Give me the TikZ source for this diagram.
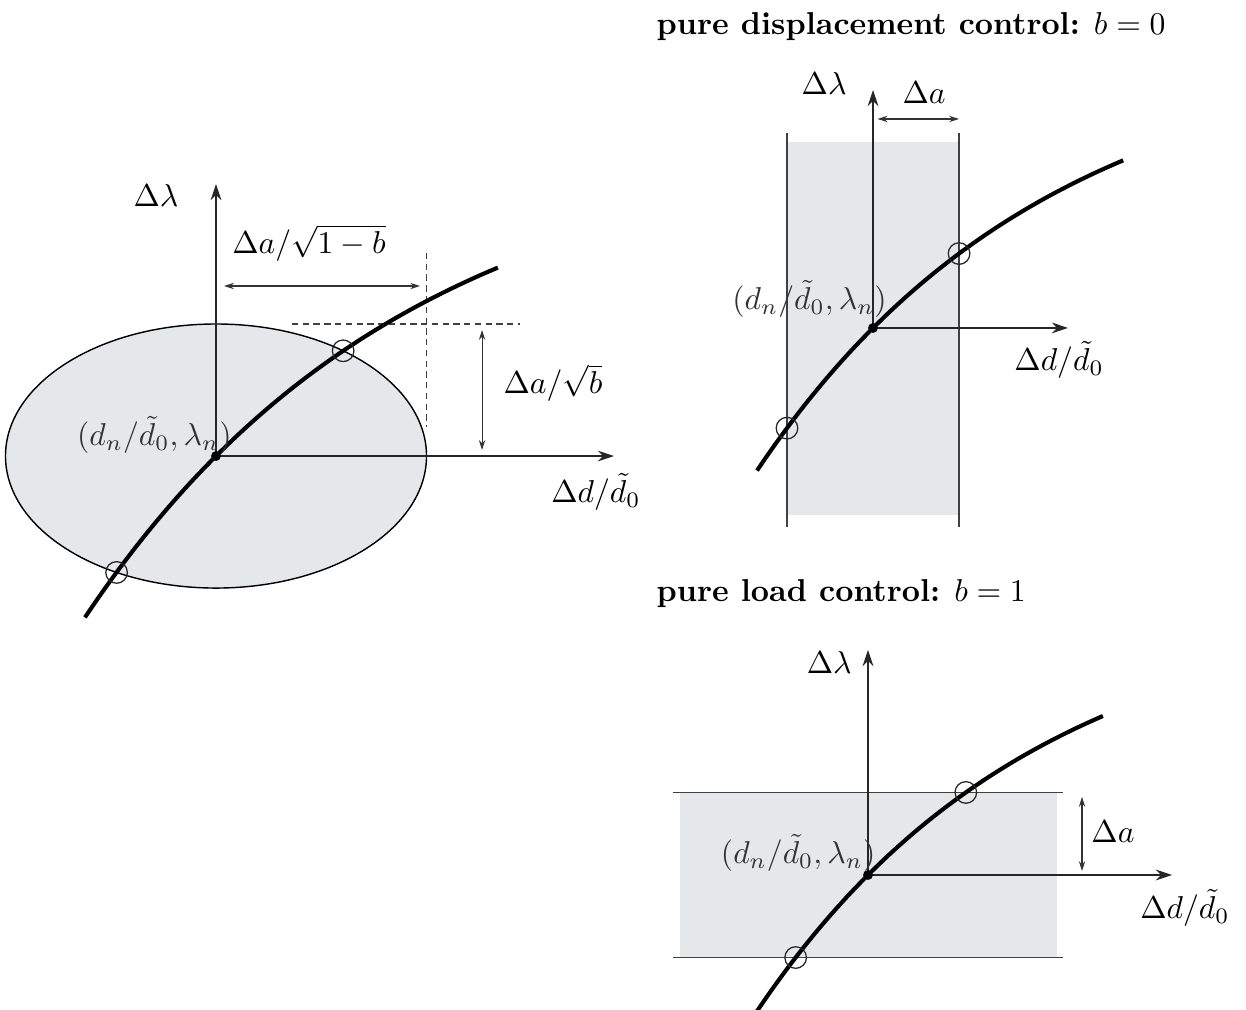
\documentclass[tikz,border=0pt]{standalone}
\usepackage{amsmath,amssymb}
\usepackage{xcolor}
\usepackage{tikz}
\usetikzlibrary{arrows.meta, intersections, calc}

\definecolor{areagray}{RGB}{230,231,233}

\begin{document}
\begin{tikzpicture}[
  axis/.style={-{Stealth[length=1.8mm, width=1.2mm]}, black!85, line width=0.45pt},
  dim/.style={{Stealth[length=1.1mm, width=0.7mm]}-{Stealth[length=1.1mm, width=0.7mm]}, black!80, line width=0.35pt},
  guide/.style={dash pattern=on 2pt off 1.4pt, black!75, line width=0.4pt},
  bound/.style={black!75, line width=0.5pt},
  curve/.style={line width=1.3pt, black},
  hit/.style={black!85, line width=0.4pt},
  lbl/.style={inner sep=0pt},
  ptlbl/.style={inner sep=0pt, text=black!80}
]
  \useasboundingbox (0,0) rectangle (13.844,11.211);

  % general case: ellipse
  \begin{scope}[shift={(2.400,6.144)}]
    \coordinate (o1) at (0,0);
    \coordinate (x1) at (4.422,0);
    \coordinate (y1) at (0,3.022);
    \filldraw[fill=areagray, draw=black, line width=0.45pt, name path=e1] (o1) ellipse (2.339 and 1.467);
    \draw[guide] (2.339,2.256) -- (2.339,0.322);
    \draw[guide] (0.844,1.467) -- (3.378,1.467);
    \coordinate (h1a) at (0.089,1.889);
    \coordinate (h1b) at (2.267,1.889);
    \draw[dim] (h1a) -- (h1b);
    \coordinate (v1a) at (2.956,1.400);
    \coordinate (v1b) at (2.956,0.067);
    \draw[dim] (v1a) -- (v1b);
    \draw[axis] (o1) -- (x1);
    \draw[axis] (o1) -- (y1);
    \draw[curve, name path=c1] plot[domain=-1.456:3.133, samples=80] (\x, {3.611*(1-exp(-\x/3.611))});
    \path[name intersections={of=c1 and e1, name=i1}];
    \draw[hit] (i1-1) circle (0.12);
    \draw[hit] (i1-2) circle (0.12);
    \fill (o1) circle (0.055);
    \node[lbl] (lam1) at (-0.667,2.900) {$\Delta\lambda$};
    \node[lbl] (dd1) at (4.222,-0.400) {$\Delta d/\tilde{d}_0$};
    \node[lbl] (wa1) at (1.033,2.367) {$\Delta a/\sqrt{1-b}$};
    \node[lbl] (wb1) at (3.744,0.811) {$\Delta a/\sqrt{b}$};
    \node[ptlbl, anchor=south east] (pt1) at (0.180,0.020) {$(d_n/\tilde{d}_0,\lambda_n)$};
  \end{scope}

  % pure displacement control
  \node[lbl, anchor=base west] (t2) at (7.289,10.822) {\textbf{pure displacement control:} $b=0$};
  \begin{scope}[shift={(9.700,7.567)}]
    \coordinate (o2) at (0,0);
    \coordinate (x2) at (2.167,0);
    \coordinate (y2) at (0,2.644);
    \fill[areagray] (-0.956,-2.078) rectangle (0.956,2.067);
    \draw[bound, name path=l2] (-0.956,2.167) -- (-0.956,-2.211);
    \draw[bound, name path=r2] (0.956,2.167) -- (0.956,-2.211);
    \coordinate (h2a) at (0.050,2.322);
    \coordinate (h2b) at (0.956,2.322);
    \draw[dim] (h2a) -- (h2b);
    \draw[axis] (o2) -- (x2);
    \draw[axis] (o2) -- (y2);
    \draw[curve, name path=c2] plot[domain=-1.289:2.780, samples=80] (\x, {3.222*(1-exp(-\x/3.222))});
    \path[name intersections={of=c2 and l2, name=i2}];
    \path[name intersections={of=c2 and r2, name=j2}];
    \draw[hit] (i2-1) circle (0.12);
    \draw[hit] (j2-1) circle (0.12);
    \fill (o2) circle (0.055);
    \node[lbl] (lam2) at (-0.544,2.711) {$\Delta\lambda$};
    \node[lbl] (da2) at (0.567,2.611) {$\Delta a$};
    \node[lbl] (dd2) at (2.067,-0.356) {$\Delta d/\tilde{d}_0$};
    \node[ptlbl, anchor=south east] (pt2) at (0.160,0.110) {$(d_n/\tilde{d}_0,\lambda_n)$};
  \end{scope}

  % pure load control
  \node[lbl, anchor=base west] (t3) at (7.289,4.530) {\textbf{pure load control:} $b=1$};
  \begin{scope}[shift={(9.644,1.489)}]
    \coordinate (o3) at (0,0);
    \coordinate (x3) at (3.378,0);
    \coordinate (y3) at (0,2.500);
    \fill[areagray] (-2.089,-0.917) rectangle (2.100,0.917);
    \draw[bound, name path=b3] (-2.167,-0.917) -- (2.167,-0.917);
    \draw[bound, name path=u3] (-2.167,0.917) -- (2.167,0.917);
    \coordinate (v3a) at (2.378,0.867);
    \coordinate (v3b) at (2.378,0.044);
    \draw[dim] (v3a) -- (v3b);
    \draw[axis] (o3) -- (x3);
    \draw[axis] (o3) -- (y3);
    \draw[curve, name path=c3] plot[domain=-1.233:2.611, samples=80] (\x, {3.111*(1-exp(-\x/3.111))});
    \path[name intersections={of=c3 and b3, name=i3}];
    \path[name intersections={of=c3 and u3, name=j3}];
    \draw[hit] (i3-1) circle (0.12);
    \draw[hit] (j3-1) circle (0.12);
    \fill (o3) circle (0.055);
    \node[lbl] (lam3) at (-0.430,2.356) {$\Delta\lambda$};
    \node[lbl] (da3) at (2.722,0.478) {$\Delta a$};
    \node[lbl] (dd3) at (3.522,-0.367) {$\Delta d/\tilde{d}_0$};
    \node[ptlbl, anchor=south east] (pt3) at (0.090,0.030) {$(d_n/\tilde{d}_0,\lambda_n)$};
  \end{scope}
\end{tikzpicture}
\end{document}
